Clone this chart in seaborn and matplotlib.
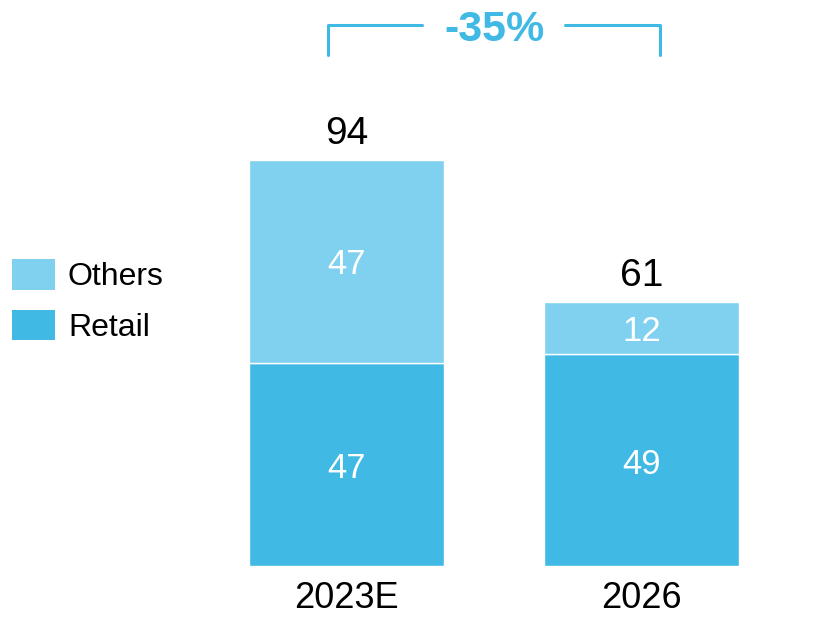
import matplotlib
matplotlib.use("Agg")
import matplotlib.pyplot as plt
import seaborn as sns
import pandas as pd
from matplotlib.patches import Patch

# Data
years = ["2023E", "2026"]
retail = [47, 49]
others = [47, 12]
totals = [94, 61]
change_label = "-35%"

RETAIL_C = "#41B9E5"
OTHERS_C = "#7FD1EF"

sns.set_theme(style="white")
plt.rcParams["font.family"] = ["Liberation Sans", "DejaVu Sans"]
plt.rcParams["text.color"] = "black"
plt.rcParams["xtick.color"] = "black"

fig = plt.figure(figsize=(8.35, 6.17), dpi=100)
W, H = 835, 617
ax = fig.add_axes([199 / W, 51 / H, 590 / W, 566 / H])

df = pd.DataFrame({"year": years, "retail": retail, "others": others})

sns.barplot(data=df, x="year", y="retail", color=RETAIL_C, width=0.661,
            saturation=1, edgecolor="white", linewidth=1, ax=ax)
sns.barplot(data=df, x="year", y="others", color=OTHERS_C, width=0.661,
            saturation=1, bottom=df["retail"], edgecolor="white", linewidth=1,
            ax=ax)

ax.set_xlim(-0.5, 1.5)
ax.set_ylim(0, 131)
ax.set_xlabel("")
ax.set_ylabel("")
ax.set_yticks([])
ax.tick_params(axis="x", length=0, pad=11, labelsize=26, labelcolor="black")
for s in ax.spines.values():
    s.set_visible(False)
ax.set_facecolor("none")

# Segment values and totals
for i in range(len(years)):
    ax.annotate(str(retail[i]), (i, retail[i] / 2), xytext=(0, -3),
                textcoords="offset points", ha="center", va="center",
                color="white", fontsize=25)
    ax.annotate(str(others[i]), (i, retail[i] + others[i] / 2), xytext=(0, -2),
                textcoords="offset points", ha="center", va="center",
                color="white", fontsize=25)
    ax.annotate(str(totals[i]), (i, totals[i]), xytext=(0, 6),
                textcoords="offset points", ha="center", va="bottom",
                fontsize=28, color="black")

# Change bracket above the bars
def fx(px):
    return px / W

def fy(py):
    return 1 - py / H

lw = 2.2
fig.add_artist(plt.Line2D([fx(328), fx(328), fx(422)], [fy(55), fy(25), fy(25)],
                          color=RETAIL_C, lw=lw, solid_joinstyle="round"))
fig.add_artist(plt.Line2D([fx(565), fx(660), fx(660)], [fy(25), fy(25), fy(55)],
                          color=RETAIL_C, lw=lw, solid_joinstyle="round"))
fig.text(fx(494), fy(30), change_label, ha="center", va="center",
         fontsize=31, fontweight="bold", color=RETAIL_C)

# Legend
handles = [Patch(facecolor=OTHERS_C, edgecolor="none", label="Others"),
           Patch(facecolor=RETAIL_C, edgecolor="none", label="Retail")]
fig.legend(handles=handles, loc="upper left",
           bbox_to_anchor=(fx(12), fy(259)), frameon=False, fontsize=23,
           handlelength=1.35, handleheight=1.1, handletextpad=0.4,
           labelspacing=0.55, borderpad=0, borderaxespad=0)

fig.savefig("out.png", dpi=100)
